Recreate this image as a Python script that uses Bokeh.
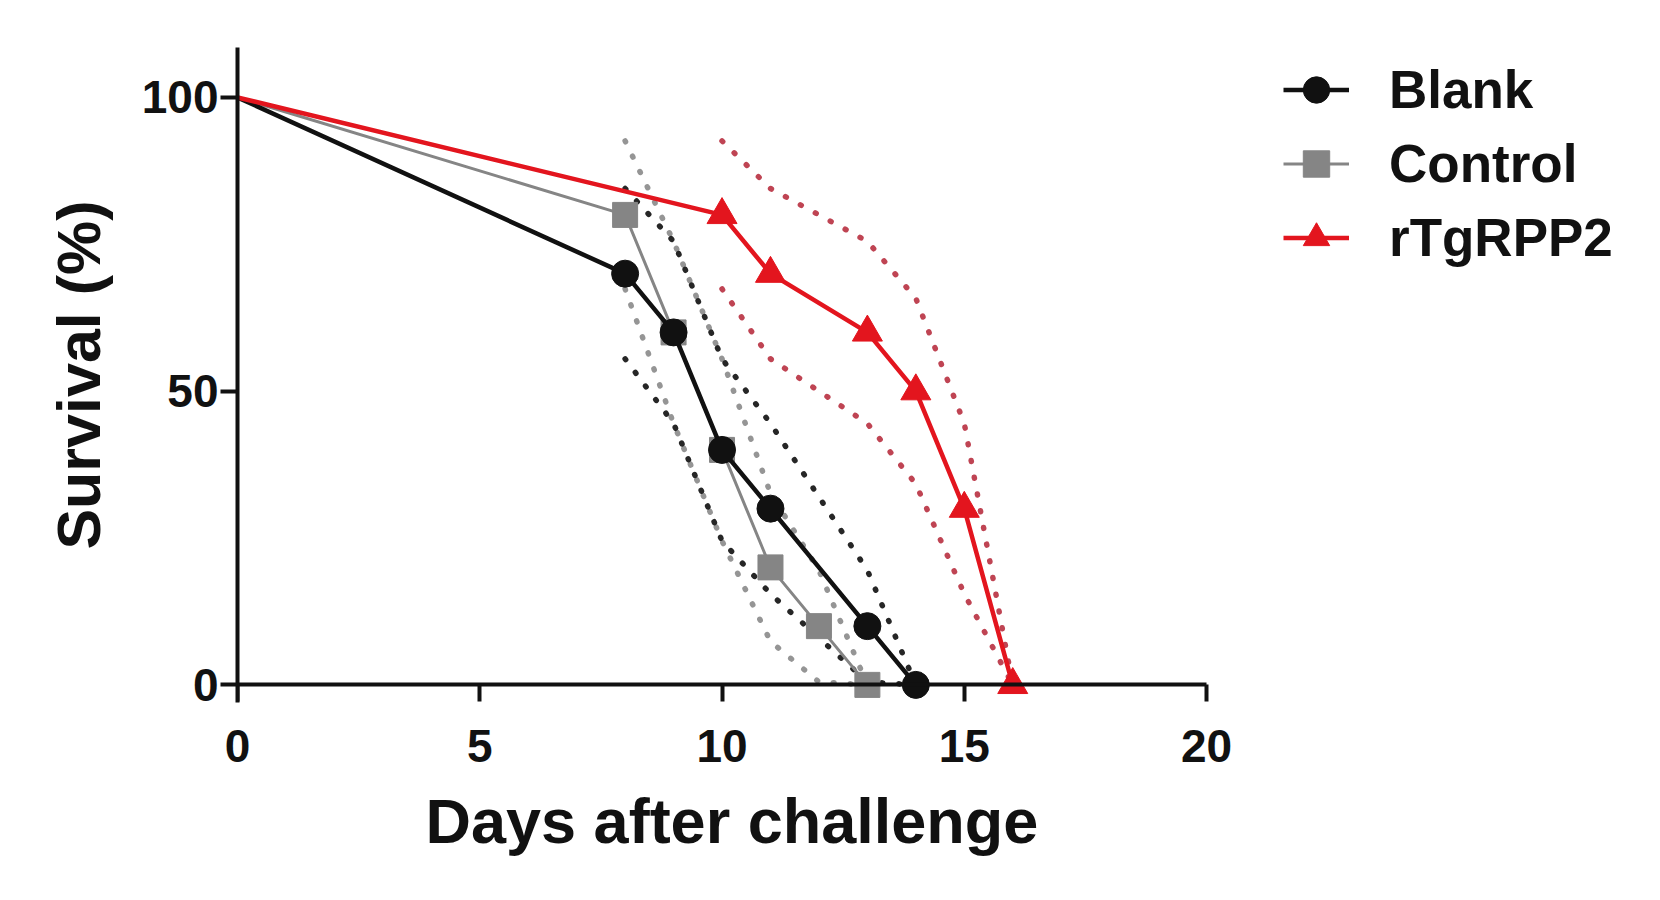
from bokeh.plotting import figure
from bokeh.models import (Range1d, Legend, LegendItem, FixedTicker, LinearAxis,
                          Title, CustomLabelingPolicy)
from bokeh.embed import file_html
from bokeh.resources import INLINE

# Survival data (percent)
days_blank = [0, 8, 9, 10, 11, 13, 14]
surv_blank = [100, 70, 60, 40, 30, 10, 0]
days_control = [0, 8, 9, 10, 11, 12, 13]
surv_control = [100, 80, 60, 40, 20, 10, 0]
days_rtg = [0, 10, 11, 13, 14, 15, 16]
surv_rtg = [100, 80, 70, 60, 50, 30, 0]

# Dotted error bands (upper / lower)
band_days_blank = [8, 9, 10, 11, 13, 14]
upper_blank = [84.5, 75.5, 55.5, 44.5, 19.5, 0]
lower_blank = [55.5, 44.5, 24.5, 15.5, 0.5, 0]
band_days_control = [8, 9, 10, 11, 12, 13]
upper_control = [92.6, 75.5, 55.5, 32.6, 19.5, 0]
lower_control = [67.4, 44.5, 24.5, 7.4, 0.5, 0]
band_days_rtg = [10, 11, 13, 14, 15, 16]
upper_rtg = [92.6, 84.5, 75.5, 65.8, 44.5, 0]
lower_rtg = [67.4, 55.5, 44.5, 34.2, 15.5, 0]

x_ticks = [0, 5, 10, 15, 20]
y_ticks = [0, 50, 100]

BLACK = "#111111"
GRAY = "#858585"
RED = "#E3151E"
FONT = "Liberation Sans"

p = figure(width=1640, height=880, output_backend="svg", toolbar_location=None,
           x_range=Range1d(0, 28.75), y_range=Range1d(-3, 108.5),
           min_border_left=237, min_border_right=10,
           min_border_top=47, min_border_bottom=178)
p.outline_line_color = None
p.grid.visible = False
p.background_fill_color = "white"
p.border_fill_color = "white"

# bottom axis: only tick labels
xax = p.below[0]
xax.bounds = (0, 20)
xax.ticker = FixedTicker(ticks=x_ticks)
xax.axis_line_color = None
xax.major_tick_line_color = None
xax.major_tick_out = 0
xax.major_tick_in = 0
xax.minor_tick_line_color = None
xax.major_label_text_font = FONT
xax.major_label_text_font_style = "bold"
xax.major_label_text_font_size = "46px"
xax.major_label_text_color = BLACK
xax.major_label_standoff = 27

# x-axis title
p.add_layout(Title(text="Days after challenge", align="left", offset=188, standoff=38,
                   text_font=FONT, text_font_style="bold", text_font_size="63px",
                   text_color=BLACK), "below")

# axis line and ticks drawn at y = 0
no_labels = CustomLabelingPolicy(code="""
for (const i of Array.from(indices)) { indices.unset(i) }
return indices
""")
xline = LinearAxis(ticker=FixedTicker(ticks=x_ticks), fixed_location=0, bounds=(0, 20),
                   axis_line_width=4, axis_line_color=BLACK,
                   major_tick_line_width=4, major_tick_line_color=BLACK,
                   major_tick_in=17, major_tick_out=0, minor_tick_line_color=None,
                   major_label_policy=no_labels, major_label_standoff=0)
p.add_layout(xline, "above")

yax = p.left[0]
yax.ticker = FixedTicker(ticks=y_ticks)
yax.axis_label = "Survival (%)"
yax.axis_line_width = 4
yax.axis_line_color = BLACK
yax.major_tick_line_width = 4
yax.major_tick_line_color = BLACK
yax.major_tick_out = 17
yax.major_tick_in = 0
yax.minor_tick_line_color = None
yax.major_label_text_font = FONT
yax.major_label_text_font_style = "bold"
yax.major_label_text_font_size = "46px"
yax.major_label_text_color = BLACK
yax.major_label_standoff = 2
yax.axis_label_text_font = FONT
yax.axis_label_text_font_style = "bold"
yax.axis_label_text_font_size = "61px"
yax.axis_label_text_color = BLACK
yax.axis_label_standoff = 26

# dotted bands
def band(xs, ys, color, alpha):
    p.line(xs, ys, line_color=color, line_alpha=alpha, line_width=5.5,
           line_dash="1 16", line_cap="round")

band(band_days_control, upper_control, "#8a8a8a", 0.9)
band(band_days_control, lower_control, "#8a8a8a", 0.9)
band(band_days_blank, upper_blank, "#1a1a1a", 0.95)
band(band_days_blank, lower_blank, "#1a1a1a", 0.95)
band(band_days_rtg, upper_rtg, "#B83040", 0.9)
band(band_days_rtg, lower_rtg, "#B83040", 0.9)

# survival curves
l_c = p.line(days_control, surv_control, line_color=GRAY, line_width=3)
s_c = p.scatter(days_control[1:], surv_control[1:], marker="square", size=25,
                fill_color=GRAY, line_color=GRAY)
l_b = p.line(days_blank, surv_blank, line_color=BLACK, line_width=4.5)
s_b = p.scatter(days_blank[1:], surv_blank[1:], marker="circle", size=27,
                fill_color=BLACK, line_color=BLACK)
l_r = p.line(days_rtg, surv_rtg, line_color=RED, line_width=4.5)
s_r = p.scatter(days_rtg[1:], surv_rtg[1:], marker="triangle", size=30,
                fill_color=RED, line_color=RED)

legend = Legend(items=[
    LegendItem(label="Blank", renderers=[l_b, s_b]),
    LegendItem(label="Control", renderers=[l_c, s_c]),
    LegendItem(label="rTgRPP2", renderers=[l_r, s_r]),
], location=(1046, 431))
legend.glyph_width = 66
legend.glyph_height = 67
legend.label_height = 67
legend.spacing = 7
legend.padding = 0
legend.margin = 0
legend.border_line_color = None
legend.background_fill_alpha = 0
legend.label_standoff = 40
legend.label_text_font = FONT
legend.label_text_font_style = "bold"
legend.label_text_font_size = "53px"
legend.label_text_color = BLACK
p.add_layout(legend)

open("out.html", "w").write(file_html(p, INLINE))
